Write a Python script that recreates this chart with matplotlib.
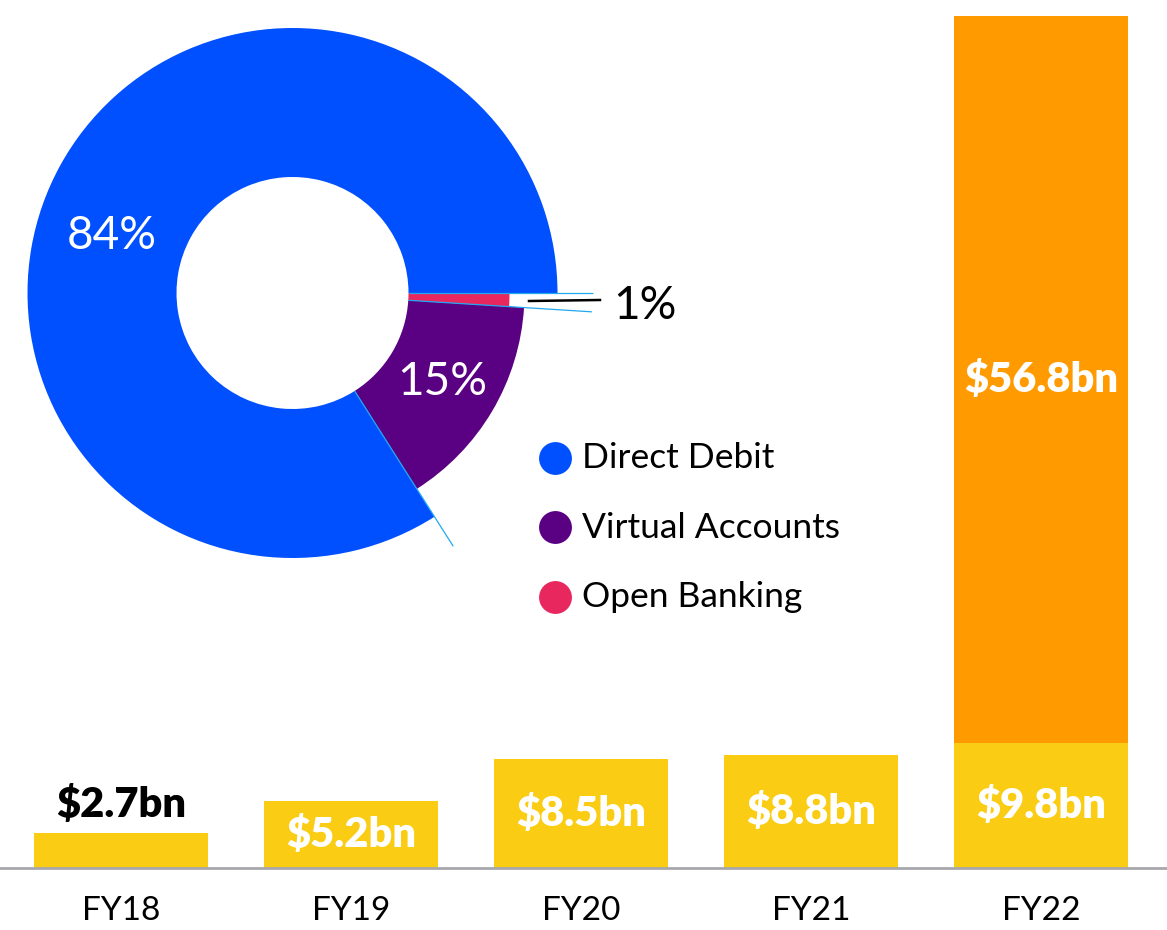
import numpy as np
import matplotlib
matplotlib.use("Agg")
import matplotlib.pyplot as plt
from matplotlib.patches import Wedge

# ---------------- data ----------------
years = ["FY18", "FY19", "FY20", "FY21", "FY22"]
base_values = [2.7, 5.2, 8.5, 8.8, 9.8]          # yellow
extra_values = [0, 0, 0, 0, 56.8]                # orange (FY22 only)
base_labels = ["$2.7bn", "$5.2bn", "$8.5bn", "$8.8bn", "$9.8bn"]
extra_labels = ["", "", "", "", "$56.8bn"]

mix_names = ["Direct Debit", "Virtual Accounts", "Open Banking"]
mix_shares = [84, 15, 1]
mix_labels = ["84%", "15%", "1%"]

# ---------------- style ----------------
W, H = 1167, 930
DPI = 100
FONT = ["Lato", "DejaVu Sans"]
YELLOW = "#FBCC14"
ORANGE = "#FF9B00"
MIX_COLORS = ["#0050FF", "#5A0082", "#E8275F"]
EDGE_BLUE = "#22A8F0"

plt.rcParams["font.family"] = FONT

fig = plt.figure(figsize=(W / DPI, H / DPI), dpi=DPI)
fig.patch.set_facecolor("white")

# ---------------- bars ----------------
base_px = 868
px_per_bn = 12.8
bar_centers_px = 121
bar_step_px = 230
ax = fig.add_axes([0, (H - base_px) / H, 1, base_px / H])
ax.set_xlim(-bar_centers_px / bar_step_px, (W - bar_centers_px) / bar_step_px)
ax.set_ylim(0, base_px / px_per_bn)
x = np.arange(len(years))
bw = 174 / bar_step_px
ax.bar(x, base_values, width=bw, color=YELLOW, zorder=2)
ax.bar(x, extra_values, width=bw, bottom=base_values, color=ORANGE, zorder=2)

LBL = dict(fontsize=30, fontweight="heavy")
for xi, v, lab in zip(x, base_values, base_labels):
    if v < 4:
        ax.annotate(lab, (xi, v), xytext=(0, 12), textcoords="offset points",
                    ha="center", va="baseline", color="black", **LBL)
    else:
        ax.text(xi, v / 2, lab, ha="center", va="center", color="white", **LBL)
for xi, b, v, lab in zip(x, base_values, extra_values, extra_labels):
    if v > 0:
        ax.text(xi, b + v / 2, lab, ha="center", va="center", color="white",
                **LBL)

ax.set_xticks(x)
ax.set_xticklabels(years, fontsize=24, color="black")
ax.tick_params(axis="x", length=0, pad=20)
ax.set_yticks([])
for s in ["left", "right", "top"]:
    ax.spines[s].set_visible(False)
ax.spines["bottom"].set_color("#A8A8AC")
ax.spines["bottom"].set_linewidth(2)
ax.patch.set_alpha(0)

# ---------------- donut ----------------
ov = fig.add_axes([0, 0, 1, 1])
ov.set_xlim(0, W)
ov.set_ylim(0, H)
ov.axis("off")
ov.patch.set_alpha(0)

cx, cy = 292.5, H - 293
r_in = 116
r_out = [265, 232, 217]
r_edge = 300

cum = np.concatenate([[0], np.cumsum(mix_shares)]) / np.sum(mix_shares) * 360
for i, col in enumerate(MIX_COLORS):
    ov.add_patch(Wedge((cx, cy), r_out[i], cum[i], cum[i + 1],
                       width=r_out[i] - r_in, facecolor=col, edgecolor="none",
                       zorder=2))
# light blue boundary lines
for ang in cum[1:]:
    t = np.deg2rad(ang)
    ov.plot([cx + r_in * np.cos(t), cx + r_edge * np.cos(t)],
            [cy + r_in * np.sin(t), cy + r_edge * np.sin(t)],
            color=EDGE_BLUE, lw=0.9, zorder=3, solid_capstyle="butt")

# percentage labels
PCT = dict(fontsize=33, fontweight="normal")
mids = (cum[:-1] + cum[1:]) / 2
t0 = np.deg2rad(mids[0] + 10.5)
ov.text(cx + 190 * np.cos(t0), cy + 190 * np.sin(t0) - 3, mix_labels[0],
        ha="center", va="center", color="white", **PCT)
t1 = np.deg2rad(mids[1])
ov.text(cx + 174 * np.cos(t1), cy + 174 * np.sin(t1), mix_labels[1],
        ha="center", va="center", color="white", **PCT)
# small slice: leader + label
ov.plot([529, 600], [H - 301, H - 300], color="black", lw=1.8, zorder=3)
ov.text(613, H - 306, mix_labels[2], ha="left", va="center", color="black",
        **PCT)

# legend
for k, (name, col) in enumerate(zip(mix_names, MIX_COLORS)):
    yy = H - (458 + 69.5 * k)
    ov.scatter([555], [yy], s=560, color=col, zorder=3, linewidths=0)
    ov.text(582, yy, name, ha="left", va="center", fontsize=25.5,
            color="black")

fig.savefig("out.png", dpi=DPI, facecolor="white")
